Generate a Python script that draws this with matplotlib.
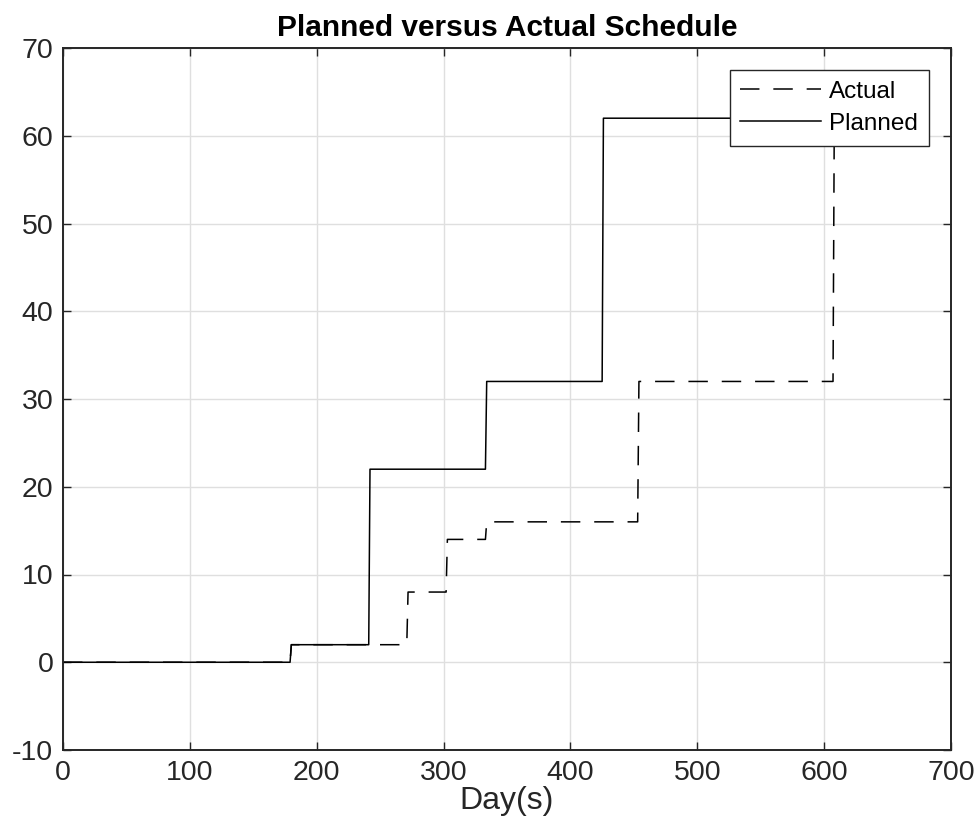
import matplotlib
matplotlib.use("Agg")
import matplotlib.pyplot as plt

plt.rcParams['font.family'] = ['Liberation Sans', 'DejaVu Sans']
plt.rcParams['lines.scale_dashes'] = False
plt.rcParams['axes.unicode_minus'] = False

planned_x = [0, 179, 180, 241, 242, 333, 334, 425, 426, 608]
planned_y = [0, 0, 2, 2, 22, 22, 32, 32, 62, 62]
actual_x = [0, 179, 180, 271, 272, 302, 303, 333, 334, 453, 454, 607, 608]
actual_y = [0, 0, 2, 2, 8, 8, 14, 14, 16, 16, 32, 32, 62]

xticks = [0, 100, 200, 300, 400, 500, 600, 700]
yticks = [-10, 0, 10, 20, 30, 40, 50, 60, 70]

fig = plt.figure(figsize=(9.77, 8.36), dpi=100)
ax = fig.add_axes([63/977, 1-750/836, (951-63)/977, (750-48)/836])

dark = '#262626'
ax.plot(actual_x, actual_y, color='black', lw=1.1, dashes=(14, 10), label='Actual')
ax.plot(planned_x, planned_y, color='black', lw=1.1, label='Planned')

ax.set_xlim(0, 700)
ax.set_ylim(-10, 70)
ax.set_xticks(xticks)
ax.set_yticks(yticks)
ax.grid(True, color='#dfdfdf', lw=1.0)
ax.set_axisbelow(True)
ax.tick_params(direction='in', top=True, right=True, labelsize=20.5, colors=dark,
               length=6, width=1.0, pad=7)
for s in ax.spines.values():
    s.set_color(dark)
    s.set_linewidth(1.4)

ax.set_title('Planned versus Actual Schedule', fontsize=21.5, fontweight='bold', pad=9)
ax.set_xlabel('Day(s)', fontsize=23, color=dark, labelpad=0)

leg = ax.legend(loc='upper right', bbox_to_anchor=(929/977, 1-70/836), bbox_transform=fig.transFigure,
                fontsize=17.5, fancybox=False, framealpha=1, edgecolor=dark,
                handlelength=3.3, borderpad=0.45, labelspacing=0.4, handletextpad=0.35,
                borderaxespad=0)
leg.get_frame().set_linewidth(1.0)

fig.savefig('out.png', dpi=100)
